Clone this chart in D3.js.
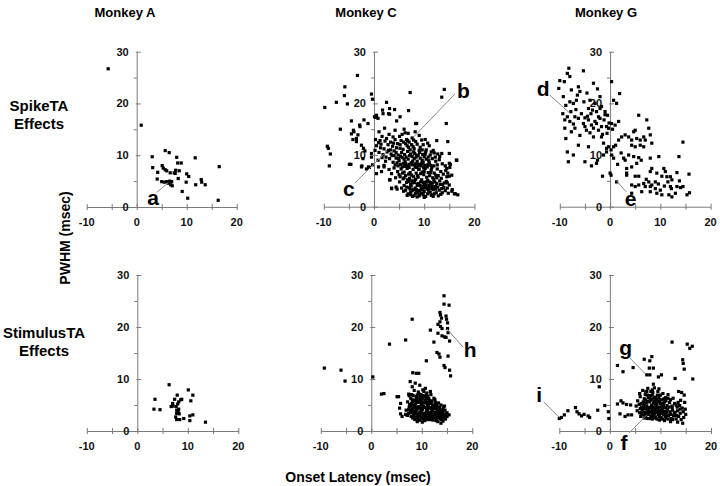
<!DOCTYPE html>
<html><head><meta charset="utf-8">
<script src="https://cdn.jsdelivr.net/npm/d3@7"></script>
<style>body{margin:0;background:#fff} svg{display:block;font-family:"Liberation Sans",Arial,sans-serif}</style>
</head><body><svg id="c" width="720" height="486"></svg>
<script>
const monkeys = ["Monkey A", "Monkey C", "Monkey G"];
const rowLabels = [["SpikeTA", "Effects"], ["StimulusTA", "Effects"]];
const xTicks = [-10, -5, 0, 5, 10, 15, 20];
const xLabels = [-10, 0, 10, 20];
const yMajor = [0, 10, 20, 30];
const yMinor = [5, 15, 25];
const xTitle = "Onset Latency (msec)";
const yTitle = "PWHM (msec)";

const spikeA = [[-5.7,26.7],[0.9,15.8],[3.1,9.7],[3.2,7.6],[4.2,6.7],[4.1,5.4],[5.1,8.0],[5.3,7.5],[5.7,10.9],[6.5,10.5],
[5.7,7.2],[6.0,7.0],[6.7,6.6],[7.0,4.9],[5.0,4.9],[5.5,4.8],[6.0,4.9],[6.3,4.6],[6.8,4.3],[7.1,4.1],[7.5,6.6],[7.8,7.1],
[8.0,9.6],[8.2,8.5],[8.9,8.5],[8.5,7.0],[7.7,6.5],[8.3,5.5],[10.0,6.4],[10.4,5.9],[9.9,4.8],[9.1,3.0],[10.2,1.7],[11.7,9.5],
[11.8,4.3],[12.9,5.3],[13.0,4.8],[13.7,4.3],[16.5,7.8],[16.3,1.3],[6.6,5.0]];

const spikeC = [[-9.8,19.2],[-7.5,20.2],[-5.8,23.2],[-5.9,21.5],[-5.3,19.9],[-3.3,25.4],[-0.5,21.8],[-0.3,20.8],[-6.7,15.0],
[-4.5,16.6],[-4.5,14.1],[-3.5,13.2],[-2.8,15.5],[-2.0,16.8],[-4.1,14.8],[-9.3,11.7],[-9.1,11.3],[-8.7,10.2],[-8.9,7.9],
[-4.9,8.2],[-4.6,8.2],[-2.1,11.3],[-2.4,7.9],[-1.5,7.3],[-1.1,7.7],[-0.5,10.3],[-0.3,8.1],[0.9,7.7],[0.5,17.7],[0.4,17.3],
[1.7,18.7],[2.5,20.2],[3.1,17.9],[4.1,18.8],[4.5,16.6],[6.9,18.6],[7.2,22.1],[5.2,17.4],[8.3,16.1],[13.5,21.2],[14.0,22.7],
[14.4,16.1],[15.0,10.3],[15.2,8.2],[14.5,7.4],[14.7,6.5],[15.5,6.1],[16.4,9.0],[16.2,2.5],[10.2,13.0],[12.5,12.8],[12.7,10.2],
[13.1,9.7],[-2.85,15.8],[-1.2,16.1],[-4.0,14.5],[-3.2,13.9],[-4.2,13.0],[-2.5,11.9],[-3.5,12.6],[-2.5,7.7],[-0.9,7.6],
[-0.5,9.6],[-2.2,9.3],[-1.8,10.8],[3.1,19.0],[2.9,18.0],[1.8,18.0],[0.8,17.1],[0.1,17.4],[3.5,3.6],[4.4,3.8],[3.1,5.2],
[3.5,6.4],[1.5,6.8],[0.5,6.4],[2.0,7.7],[8.5,16.1],[14.7,12.6],[16.5,9.0],[15.0,8.4],[15.1,7.6],[14.3,7.0],[15.0,5.9],
[14.6,4.6],[15.6,3.3],[16.7,2.3],
[1.0,14.5],[2.1,15.2],[3.0,14.0],[4.2,14.8],[5.1,13.6],[6.0,15.0],[6.8,14.2],[7.6,13.3],[2.5,13.2],[1.2,12.8],[0.3,13.0],
[3.8,13.5],[5.6,14.0],[8.2,14.5],[9.0,13.8],[9.5,12.9],[7.0,12.5],[4.7,12.2],
[0.5,11.8],[1.4,12.1],[2.0,11.2],[2.8,12.0],[3.3,11.0],[3.9,12.3],[4.5,11.4],[5.2,12.0],[5.8,11.1],[6.3,12.2],[6.9,11.5],
[7.5,12.0],[8.0,11.2],[8.6,12.1],[9.2,11.5],[9.8,12.0],[10.4,11.0],[11.0,11.8],[11.8,10.9],[1.0,10.5],[1.8,10.1],[2.6,10.6],
[3.4,10.2],[4.0,10.8],[4.8,10.0],[5.5,10.5],[6.1,10.1],[6.7,10.7],[7.3,10.2],[7.9,10.6],[8.5,10.0],[9.1,10.5],[9.7,10.1],
[10.3,10.6],[11.2,10.0],[12.0,10.4],[13.5,10.3],
[0.8,9.0],[1.6,9.5],[2.3,8.8],[3.1,9.3],[3.8,8.6],[4.4,9.4],[5.0,8.9],[5.6,9.5],[6.2,8.7],[6.8,9.2],[7.4,8.5],[8.0,9.3],
[8.6,8.8],[9.2,9.4],[9.8,8.6],[10.4,9.2],[11.0,8.5],[11.6,9.3],[12.3,8.8],[13.0,9.1],[2.0,8.0],[4.2,8.1],[5.3,8.2],[6.5,8.0],
[7.7,8.1],[8.9,8.2],[10.1,8.0],[11.3,8.0],[12.6,8.1],[13.6,8.3],[14.2,7.9],
[3.0,7.2],[4.0,7.5],[4.7,6.8],[5.4,7.3],[6.0,6.7],[6.6,7.4],[7.2,6.6],[7.8,7.2],[8.4,6.5],[9.0,7.3],[9.6,6.7],[10.2,7.4],
[10.8,6.6],[11.4,7.1],[12.0,6.5],[12.6,7.3],[13.3,6.8],[5.0,6.2],[6.3,6.0],[7.5,6.1],[8.7,6.0],[9.9,6.2],[11.1,6.0],[12.3,6.1],
[13.8,6.3],[14.5,5.8],
[3.2,5.2],[4.3,5.6],[5.1,4.8],[5.8,5.4],[6.5,4.7],[7.1,5.5],[7.7,4.6],[8.3,5.3],[8.9,4.5],[9.5,5.2],[10.1,4.4],[10.7,5.1],
[11.3,4.6],[11.9,5.3],[12.5,4.5],[13.1,5.0],[13.7,4.3],[14.4,4.9],[6.0,4.1],[7.4,4.0],[8.6,4.1],[9.8,4.0],[11.0,4.1],[12.2,3.9],
[15.0,4.2],
[3.5,3.5],[4.6,3.4],[5.5,3.6],[6.3,3.2],[7.0,3.7],[7.6,3.1],[8.2,3.6],[8.8,3.0],[9.4,3.5],[10.0,2.9],[10.6,3.4],[11.2,2.8],
[11.8,3.3],[12.4,2.7],[13.0,3.2],[13.6,2.7],[14.2,3.1],[14.8,2.6],[6.8,2.5],[8.0,2.2],[9.1,2.4],[10.3,2.0],[11.5,2.3],[12.8,2.1],
[15.5,3.0],[16.0,2.5],
[5.3,9.8],[5.9,8.4],[6.4,9.6],[7.0,8.2],[7.6,9.7],[8.2,7.8],[8.8,9.9],[9.4,7.9],[10.0,9.7],[10.6,7.7],[6.1,7.8],[6.9,6.3],
[7.9,5.8],[8.5,7.6],[9.3,6.4],[10.5,5.7],[11.7,5.6],[5.7,6.5],[6.7,5.2],[7.3,4.3],[8.0,5.0],[8.8,5.7],[9.2,4.1],[10.4,4.8],
[11.6,4.0],[5.9,3.0],[7.3,2.8],[8.5,2.7],[9.7,3.3],[10.9,3.0],[12.0,2.5],[4.8,7.9],[3.6,9.9],[2.9,10.9],[2.2,12.7],[1.6,13.6],
[0.2,10.9],[0.9,12.4],[4.2,13.0],[5.4,12.8],[6.5,13.0],[7.2,11.0],[8.3,12.6],[9.6,11.0],[10.7,12.3],[8.1,10.3],[9.0,8.0],
[9.9,7.5],[10.9,8.9],[11.5,7.6],[12.2,9.6],[12.8,6.0],[13.4,5.5],[13.9,3.7],[14.6,3.6],[12.7,3.8],[11.4,2.2],[10.0,1.8],
[8.6,1.9],[7.7,2.0],[9.5,2.6],
[4.4,10.5],[5.2,11.3],[6.0,9.2],[6.6,11.8],[7.1,9.9],[7.8,11.6],[8.4,9.6],[9.0,10.9],[9.6,9.0],[10.2,10.2],[10.8,9.6],
[11.4,10.6],[4.6,8.5],[5.6,7.7],[6.3,8.3],[7.0,7.6],[7.7,8.8],[8.3,8.3],[8.9,7.2],[9.5,8.4],[10.0,6.8],[10.7,8.1],[11.3,6.6],
[11.9,7.9],[12.5,5.6],[5.2,5.8],[6.0,5.6],[6.9,4.9],[7.5,5.0],[8.1,4.7],[8.7,4.4],[9.3,4.8],[9.9,4.7],[10.4,4.2],[11.0,4.8],
[11.6,4.6],[12.1,4.8],[6.5,3.8],[7.2,3.4],[7.9,3.3],[8.5,3.3],[9.1,3.1],[9.9,3.6],[10.4,3.7],[11.0,3.5],[11.6,3.5],[12.3,3.4],
[13.2,4.3],[13.5,3.5],[14.0,4.6],[6.6,2.2],[7.3,2.3],[8.3,2.6],[9.0,2.1],[9.8,2.3],[10.7,2.5],[11.8,2.0],[13.3,2.4],[4.9,9.3],
[3.7,11.7],[2.4,9.6],[1.3,11.4],[5.9,12.5],[6.7,12.8],[7.9,12.9],[6.2,14.3],[3.3,12.5],[4.0,9.9]];

const spikeG = [[-8.2,26.8],[-8.5,25.8],[-8.0,25.2],[-10.0,24.4],[-9.1,24.2],[-5.3,26.3],[-3.3,23.9],[0.3,24.2],[-10.2,22.9],
[-7.7,22.6],[-6.3,23.2],[-6.0,22.3],[-9.3,21.3],[-8.0,20.3],[-7.3,20.0],[-6.7,20.6],[-4.0,20.6],[-3.0,20.0],[-2.0,21.3],
[0.7,20.6],[1.3,20.0],[1.9,21.9],[-1.7,19.4],[-4.3,19.0],[-3.5,18.7],[-2.7,18.4],[-1.0,18.4],[-0.5,17.7],[-7.8,18.4],
[-8.5,17.4],[-7.0,17.4],[-6.3,17.1],[-9.0,16.8],[-8.0,16.5],[-5.3,16.1],[-4.3,16.8],[-3.7,15.8],[-2.7,16.1],[-2.0,17.1],
[-1.7,15.5],[-0.7,15.5],[-0.3,15.2],[0.3,16.1],[1.0,15.8],[1.7,16.5],[-9.0,15.2],[-7.7,14.5],[-7.0,15.2],[-5.0,15.5],
[-4.7,14.8],[-3.3,15.2],[-2.3,14.8],[-8.8,13.2],[-6.3,11.9],[-4.3,11.6],[-3.3,13.5],[-1.7,13.5],[-1.3,12.3],[-0.7,11.3],
[-0.3,11.6],[0.2,11.0],[0.7,11.6],[1.1,11.9],[1.7,12.9],[2.3,13.5],[3.0,13.9],[3.7,13.5],[4.7,14.5],[5.0,14.8],[5.7,17.7],
[7.3,16.8],[4.3,12.9],[5.3,13.2],[6.0,12.9],[6.7,13.5],[7.0,12.9],[8.0,13.9],[8.3,12.3],[7.7,15.2],[4.3,11.9],[5.0,11.6],
[6.0,11.9],[6.7,11.6],[-8.5,10.6],[-7.3,10.0],[-8.3,8.7],[-5.0,8.7],[-3.7,7.9],[-2.7,8.4],[-2.5,9.0],[-1.3,10.0],[-0.7,10.6],
[0.3,10.0],[0.7,9.4],[2.7,9.4],[3.0,9.0],[3.7,10.0],[4.7,9.7],[5.7,9.5],[5.3,8.4],[4.3,7.7],[3.3,7.4],[8.0,9.4],[9.7,9.7],
[13.7,9.7],[14.5,12.5],[-1.5,5.9],[0.0,6.5],[0.2,6.1],[1.3,4.8],[3.3,6.5],[3.3,6.1],[5.0,5.9],[5.7,5.9],[8.0,6.8],[8.3,7.4],
[9.3,6.5],[10.3,5.9],[10.7,7.4],[11.0,6.8],[11.3,5.8],[12.0,5.8],[12.3,5.2],[13.3,6.6],[15.7,6.3],[4.3,4.2],[5.0,3.9],[5.7,4.2],
[6.7,4.5],[7.0,3.9],[7.7,4.8],[8.0,3.9],[8.3,4.2],[9.0,4.8],[9.0,3.5],[10.0,3.2],[10.3,2.3],[12.0,3.9],[12.2,3.5],[13.3,3.9],
[14.0,3.7],[14.5,3.9],[12.3,1.9],[13.0,2.6],[15.3,2.3],[15.8,2.7],[6.3,2.9],[8.0,2.9],[9.3,2.6],[11.7,2.3],[4.3,2.6],
[-4.5,17.5],[-3.8,18.0],[-2.3,17.4],[-1.2,16.8],[-0.2,16.2],[-3.0,16.5],[-5.7,18.0],[-6.8,18.8],[-7.3,16.0],[-5.0,17.2],
[-2.0,19.0],[-1.0,17.8],[-0.6,14.2],[0.5,15.0],[-1.5,14.0],[-4.0,14.3],[-6.0,13.8],[-9.4,18.0],[-8.8,19.6],[-6.5,21.6],
[-5.2,20.3],[-4.6,22.0],[-2.5,22.8],[1.5,8.2],[2.2,10.4],[6.2,9.0],[7.2,5.3],[9.6,4.4],[10.8,4.0],[11.5,4.8],[13.8,5.0]];

const stimA = [[3.3,4.2],[3.5,6.1],[4.5,4.1],[6.3,8.9],[6.7,4.7],[7.0,5.3],[7.1,4.8],[7.4,6.1],[7.7,4.7],[7.8,4.0],[7.8,3.4],
[7.9,6.9],[8.0,5.2],[8.1,3.7],[8.3,3.3],[8.2,5.6],[8.4,2.2],[7.8,2.2],[8.6,6.0],[8.8,6.1],[9.2,2.4],[10.1,7.9],[10.6,5.8],
[11.0,6.9],[10.4,2.9],[11.0,3.1],[10.4,2.0],[13.5,1.7],[8.2,4.2],[7.6,2.7]];

const stimC = [[-9.3,12.1],[-6.0,11.7],[-5.2,9.6],[0.3,10.4],[2.0,7.1],[2.5,7.2],[3.6,16.7],[6.8,17.5],[8.1,21.5],[11.7,19.4],
[10.9,13.5],[8.2,11.2],[8.9,11.1],[9.4,11.1],
[14.4,26.0],[14.4,24.4],[15.4,24.2],[13.6,22.8],[13.7,22.3],[13.9,21.7],[13.6,21.0],[14.8,22.1],[14.9,21.5],[15.1,20.8],
[13.2,20.5],[13.7,20.1],[14.0,19.7],[15.1,19.7],[13.2,18.8],[14.0,18.3],[14.5,18.1],[14.8,18.0],[12.4,17.1],[15.5,17.3],
[15.2,18.9],[13.0,15.1],[13.4,14.8],[13.6,14.2],[15.2,14.4],[14.4,12.6],[14.6,12.2],[15.5,11.7],[15.7,10.6],
[5.1,6.6],[5.4,6.6],[5.8,5.3],[5.6,4.4],[5.8,3.3],[6.1,2.8],[7.0,3.1],[7.4,7.1],[7.7,9.5],[8.1,8.5],[8.7,9.2],[9.6,8.8],
[10.7,8.2],[11.7,7.6],[12.4,6.3],[12.7,4.9],[15.0,2.8],[15.4,3.1],
[8.5,7.8],[9.3,7.5],[10.2,7.9],[11.0,7.3],[8.0,7.0],[9.8,7.0],[10.8,6.9],[11.8,7.0],[7.5,6.8],
[7.8,6.3],[8.4,5.9],[9.0,6.4],[9.6,5.8],[10.2,6.3],[10.8,5.7],[11.4,6.2],[12.0,5.6],[12.6,6.0],[13.3,5.4],[7.2,5.6],[8.0,5.3],
[8.7,5.0],[9.3,5.5],[9.9,5.1],[10.5,5.4],[11.1,5.0],[11.7,5.3],[12.4,4.9],[13.8,5.0],[14.3,4.6],
[7.5,4.6],[8.1,4.3],[8.6,4.7],[9.1,4.2],[9.6,4.6],[10.1,4.1],[10.6,4.5],[11.1,4.0],[11.6,4.4],[12.1,3.9],[12.6,4.3],[13.1,3.8],
[13.6,4.2],[14.1,3.7],[14.6,4.0],[6.9,4.0],[7.7,3.8],[8.3,3.6],[8.8,3.9],[9.4,3.5],[9.9,3.8],[10.4,3.4],[10.9,3.7],[11.4,3.3],
[11.9,3.6],[12.4,3.2],[12.9,3.5],[13.4,3.1],[13.9,3.4],[14.4,3.0],[15.0,3.5],
[7.2,3.0],[7.9,2.8],[8.4,3.2],[8.9,2.7],[9.4,3.0],[9.9,2.6],[10.4,2.9],[10.9,2.5],[11.4,2.8],[11.9,2.4],[12.4,2.7],[12.9,2.3],
[13.4,2.6],[13.9,2.2],[14.4,2.5],[8.6,2.2],[9.1,1.8],[9.6,2.1],[10.1,1.7],[13.2,1.8],[13.8,1.5],[14.2,1.9],[8.2,2.5],
[8.3,6.8],[9.1,6.9],[9.7,6.6],[10.5,6.6],[9.0,5.7],[10.0,5.6],[11.0,5.5],[8.4,4.9],[9.4,4.7],[10.3,4.8],[11.3,4.7],[12.2,4.6],
[8.0,4.0],[9.0,4.3],[10.0,4.4],[11.0,4.2],[12.0,4.2],[13.0,4.1],[8.7,3.4],[9.7,3.3],[10.7,3.2],[11.7,3.1],[12.7,3.0],[13.7,2.9],
[9.2,2.4],[10.2,2.3],[11.2,2.2],[12.2,2.1],[8.9,6.1],[10.9,6.3],[11.5,5.8],[12.8,4.8],[13.5,4.6],[14.8,2.8],[7.6,5.1],[8.1,6.0],
[9.5,6.2],[7.4,3.4],[6.8,3.2],[10.6,2.0],
[8.2,5.6],[8.8,5.4],[9.4,5.9],[10.0,5.3],[10.6,5.9],[11.2,5.3],[11.9,5.8],[12.7,5.5],[8.5,4.4],[9.2,4.5],[9.8,4.2],[10.4,4.6],
[11.0,4.4],[11.7,4.5],[12.3,4.4],[12.9,4.5],[13.6,3.8],[14.2,4.2],[8.0,3.5],[8.6,3.7],[9.2,3.2],[9.8,3.6],[10.3,3.1],[10.9,3.4],
[11.5,3.6],[12.1,3.2],[12.6,3.6],[13.1,3.3],[13.7,3.6],[14.2,3.4],[14.8,3.3],[8.4,2.9],[9.0,2.6],[9.6,2.9],[10.2,2.6],[10.8,2.8],
[11.3,2.5],[11.9,2.9],[12.5,2.5],[13.0,2.8],[13.6,2.4],[14.1,2.8],[14.7,2.3],[9.3,2.1],[10.5,2.4],[11.7,2.2],[12.8,2.0],[9.4,7.2],
[10.4,7.6],[8.9,6.6],[10.1,6.8],[11.2,6.7],[9.8,6.0],[7.8,4.9],[7.4,4.1],[12.1,5.0],[13.0,5.1],[14.5,4.8]];

const stimG = [[-10.0,2.4],[-9.6,2.6],[-9.0,3.1],[-8.3,3.9],[-6.8,4.5],[-6.5,3.7],[-6.1,3.3],[-5.6,2.9],[-5.1,3.2],[-4.3,2.9],
[-4.0,2.6],[-2.4,4.0],[-2.1,8.5],[-1.0,4.9],[-0.3,3.7],[-0.2,2.4],
[1.5,12.6],[2.6,11.4],[4.6,12.2],[1.5,5.2],[2.2,5.8],[2.6,5.4],[3.3,5.1],[4.1,5.0],[2.0,3.3],[3.0,2.8],[3.6,3.1],[4.3,3.1],
[6.8,13.8],[7.9,13.5],[8.3,14.3],[7.8,12.1],[8.6,12.1],[7.3,10.8],[7.9,10.8],[9.6,10.4],[10.2,10.8],[8.6,9.0],[12.3,17.1],
[15.3,16.7],[15.8,15.9],[16.3,16.3],[14.4,13.7],[14.5,13.0],[14.7,11.9],[12.9,10.1],[16.4,10.0],[13.6,7.6],[14.2,7.4],
[14.7,6.9],[8.4,7.9],[7.3,7.6],[5.9,7.2],
[5.5,5.8],[6.0,6.6],[6.5,7.8],[7.0,7.0],[7.5,8.2],[8.0,6.8],[8.5,7.4],[9.0,6.5],[9.5,7.6],[10.0,6.9],[10.5,7.2],[11.0,6.4],
[11.5,7.0],[12.5,6.3],[13.5,5.5],[14.0,5.9],[14.8,5.5],
[5.2,4.8],[5.8,5.1],[6.3,4.6],[6.8,5.3],[7.3,4.8],[7.8,5.6],[8.3,5.0],[8.8,5.7],[9.3,5.2],[9.8,5.8],[10.3,5.0],[10.8,5.6],
[11.3,4.9],[11.8,5.5],[12.3,4.8],[12.8,5.3],[13.3,4.6],[13.8,4.9],[14.3,4.4],[14.9,4.2],
[5.4,3.9],[5.9,3.5],[6.4,4.0],[6.9,3.6],[7.4,4.1],[7.9,3.7],[8.4,4.2],[8.9,3.8],[9.4,4.3],[9.9,3.9],[10.4,4.4],[10.9,3.8],
[11.4,4.2],[11.9,3.7],[12.4,4.0],[12.9,3.6],[13.4,3.9],[13.9,3.4],[14.5,3.7],[15.0,3.2],
[6.1,2.8],[6.6,3.1],[7.1,2.7],[7.6,3.2],[8.1,2.8],[8.6,3.3],[9.1,2.7],[9.6,3.2],[10.1,2.6],[10.6,3.1],[11.1,2.5],[11.6,3.0],
[12.1,2.4],[12.6,2.9],[13.1,2.3],[13.6,2.8],[14.1,2.2],[14.6,2.6],[9.8,2.1],[10.8,2.0],[12.0,1.8],[13.4,1.7],[14.4,1.5],[8.4,2.3],
[7.0,6.0],[7.6,6.4],[8.2,6.1],[8.7,6.3],[9.2,6.0],[9.7,6.4],[10.2,6.0],[6.6,5.6],[7.2,5.4],[8.0,4.5],[8.6,4.6],[9.1,4.8],
[9.6,4.5],[10.6,4.7],[7.0,4.3],[7.7,4.3],[8.3,3.4],[9.2,3.5],[10.1,3.4],[11.0,3.3],[7.3,3.5],[6.5,4.3],[8.8,2.5],[11.5,6.3],
[12.0,6.0],[7.4,6.9],[8.1,7.6],[9.7,8.1],
[6.2,5.3],[6.8,6.2],[7.5,5.7],[8.0,5.9],[8.6,5.4],[9.0,5.3],[9.5,5.6],[10.0,5.3],[10.6,5.3],[11.1,5.8],[6.0,4.3],[6.7,4.7],
[7.4,4.5],[8.2,4.8],[8.8,4.3],[9.3,4.6],[9.9,4.6],[10.3,4.0],[11.0,4.5],[11.7,4.6],[12.3,4.5],[6.3,3.4],[7.0,3.2],[7.7,3.6],
[8.3,3.8],[8.8,3.3],[9.4,3.8],[9.8,3.3],[10.4,3.7],[10.8,3.4],[11.3,3.6],[12.0,3.2],[12.7,3.3],[13.2,3.0],[6.8,2.5],[7.4,2.4],
[8.0,2.4],[8.6,2.8],[9.3,2.3],[9.8,2.8],[10.4,2.3],[11.0,2.8],[11.5,2.3],[12.4,2.2],[7.9,6.6],[8.4,6.9],[9.4,6.9],[7.1,7.5],
[8.8,8.3],[10.7,6.2],[13.1,5.0],[13.9,4.2]];

// annotation letters: [panel index, letter, text x, text y, line x1, y1, x2, y2] in data units
const notes = [
  [0, "a", 3.3, 0.4, 4.0, 2.8, 6.3, 4.7],
  [1, "b", 17.8, 21.0, 16.1, 21.8, 7.8, 13.4],
  [1, "c", -5.0, 2.1, -3.8, 4.6, 2.65, 10.8],
  [2, "d", -13.3, 21.4, -12.0, 21.6, -8.0, 18.1],
  [2, "e", 4.1, 0.2, 3.2, 2.9, 1.3, 5.0],
  [4, "h", 19.6, 14.3, 18.2, 16.1, 15.0, 19.6],
  [5, "g", 3.1, 14.6, 4.0, 14.0, 7.0, 11.0],
  [5, "f", 2.8, -3.65, 3.8, -0.4, 7.3, 3.1],
  [5, "i", -14.0, 5.6, -13.1, 5.6, -10.0, 2.6]
];

const datasets = [spikeA, spikeC, spikeG, stimA, stimC, stimG];
const panelBox = [
  {x: [86.7, 236.7], y: [207, 51.7]},
  {x: [323.8, 474.4], y: [206.7, 51.7]},
  {x: [559.8, 710.6], y: [206.7, 51.7]},
  {x: [86.8, 238.3], y: [431, 275]},
  {x: [320.8, 472.3], y: [431, 275]},
  {x: [559.3, 711], y: [431, 275]}
];

const svg = d3.select("#c");
const axisCol = "#7a7a7a";
const ps = 3.2;
const labelFont = "'Liberation Sans', Arial, sans-serif";

datasets.forEach((data, i) => {
  const box = panelBox[i];
  const x = d3.scaleLinear().domain([-10, 20]).range(box.x);
  const y = d3.scaleLinear().domain([0, 30]).range(box.y);
  const g = svg.append("g");

  const xa = g.append("g").attr("transform", `translate(0,${y(0)})`)
    .call(d3.axisBottom(x).tickValues(xTicks).tickSizeInner(3).tickSizeOuter(0).tickFormat(""));
  xa.selectAll(".tick line").attr("y1", -3).attr("y2", 3);
  g.append("g").attr("class", "xl").selectAll("text").data(xLabels).join("text")
    .attr("x", d => x(d)).attr("y", y(0) + 19).attr("text-anchor", "middle")
    .attr("font-size", 11).attr("font-weight", "bold").attr("fill", "#111").attr("font-family", labelFont)
    .text(d => d);

  const ya = g.append("g").attr("transform", `translate(${x(0)},0)`)
    .call(d3.axisLeft(y).tickValues(yMajor).tickSizeInner(-4).tickSizeOuter(0).tickPadding(8).tickFormat(d => String(d)));
  ya.selectAll(".tick line").attr("x1", -1);
  g.append("g").attr("transform", `translate(${x(0)},0)`)
    .call(d3.axisLeft(y).tickValues(yMinor).tickSizeInner(3).tickSizeOuter(0).tickFormat(""))
    .select(".domain").remove();

  g.selectAll(".domain, .tick line").attr("stroke", axisCol);
  g.selectAll(".tick text").attr("font-size", 11).attr("font-weight", "bold").attr("fill", "#111")
    .attr("font-family", labelFont);

  g.append("g").selectAll("rect").data(data).join("rect")
    .attr("x", d => x(d[0]) - ps / 2).attr("y", d => y(d[1]) - ps / 2)
    .attr("width", ps).attr("height", ps).attr("fill", "#000");

  notes.filter(n => n[0] === i).forEach(n => {
    g.append("line").attr("x1", x(n[4])).attr("y1", y(n[5])).attr("x2", x(n[6])).attr("y2", y(n[7]))
      .attr("stroke", "#888").attr("stroke-width", 1);
    g.append("text").attr("x", x(n[2])).attr("y", y(n[3])).attr("text-anchor", "middle")
      .attr("font-size", 21).attr("font-weight", "bold").attr("fill", "#000").text(n[1]);
  });
});

const titleX = [125, 366, 606];
monkeys.forEach((m, i) => {
  svg.append("text").attr("x", titleX[i]).attr("y", 17).attr("text-anchor", "middle")
    .attr("font-size", 13).attr("font-weight", "bold").text(m);
});

const rowY = [111, 338];
const rowX = [39, 44];
rowLabels.forEach((r, i) => {
  r.forEach((t, j) => {
    svg.append("text").attr("x", rowX[i]).attr("y", rowY[i] + j * 18).attr("text-anchor", "middle")
      .attr("font-size", 15).attr("font-weight", "bold").text(t);
  });
});

svg.append("text").attr("transform", "translate(70,238) rotate(-90)").attr("text-anchor", "middle")
  .attr("font-size", 14).attr("font-weight", "bold").text(yTitle);
svg.append("text").attr("x", 358).attr("y", 482).attr("text-anchor", "middle")
  .attr("font-size", 14).attr("font-weight", "bold").text(xTitle);
</script></body></html>
